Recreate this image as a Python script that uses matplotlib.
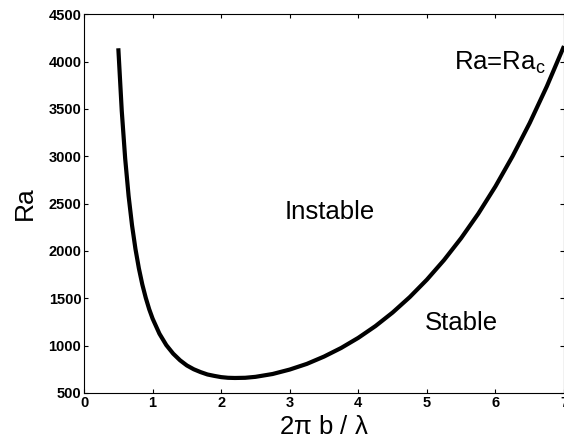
import matplotlib
matplotlib.use('Agg')
import matplotlib.pyplot as plt

wave_num = [0.5, 0.55, 0.6, 0.65, 0.7, 0.75, 0.8, 0.85, 0.9, 0.95, 1.0, 1.1, 1.2,
            1.3, 1.4, 1.5, 1.6, 1.7, 1.8, 1.9, 2.0, 2.1, 2.2, 2.35, 2.5, 2.75,
            3.0, 3.25, 3.5, 3.75, 4.0, 4.25, 4.5, 4.75, 5.0, 5.25, 5.5, 5.75,
            6.0, 6.25, 6.5, 6.75, 7.0]
ra_crit = [4140, 3480, 2975, 2580, 2270, 2020, 1815, 1645, 1505, 1385, 1285, 1125, 1005,
           915, 845, 790, 750, 720, 695, 680, 667, 660, 658, 660, 670, 700,
           747, 807, 884, 975, 1082, 1206, 1349, 1512, 1696, 1903, 2135, 2393,
           2681, 3000, 3351, 3738, 4163]
x_ticks = [0, 1, 2, 3, 4, 5, 6, 7]
y_ticks = [500, 1000, 1500, 2000, 2500, 3000, 3500, 4000, 4500]

plt.rcParams['font.family'] = ['Liberation Sans', 'DejaVu Sans']

fig = plt.figure(figsize=(5.64, 4.43), dpi=100)
ax = fig.add_axes([0.149, 0.113, 0.851, 0.855])

ax.plot(wave_num, ra_crit, color='black', linewidth=3, solid_capstyle='butt')

ax.set_xlim(0, 7)
ax.set_ylim(500, 4500)
ax.set_xticks(x_ticks)
ax.set_yticks(y_ticks)
ax.tick_params(direction='in', length=3, width=0.8, top=True, right=True,
               labelsize=10.5, pad=2)
for lab in ax.get_xticklabels() + ax.get_yticklabels():
    lab.set_fontweight('bold')

ax.set_xlabel(r'2$\mathregular{\pi}$ b / $\mathregular{\lambda}$', fontsize=18.5, labelpad=4)
ax.set_ylabel('Ra', fontsize=19, labelpad=8)

ax.text(3.59, 2410, 'Instable', fontsize=18.5, ha='center', va='center')
ax.text(5.5, 1240, 'Stable', fontsize=18.5, ha='center', va='center')
ax.text(6.06, 3990, r'Ra=Ra$_\mathregular{c}$', fontsize=18.5, ha='center', va='center')

fig.savefig('out.png', dpi=100)
